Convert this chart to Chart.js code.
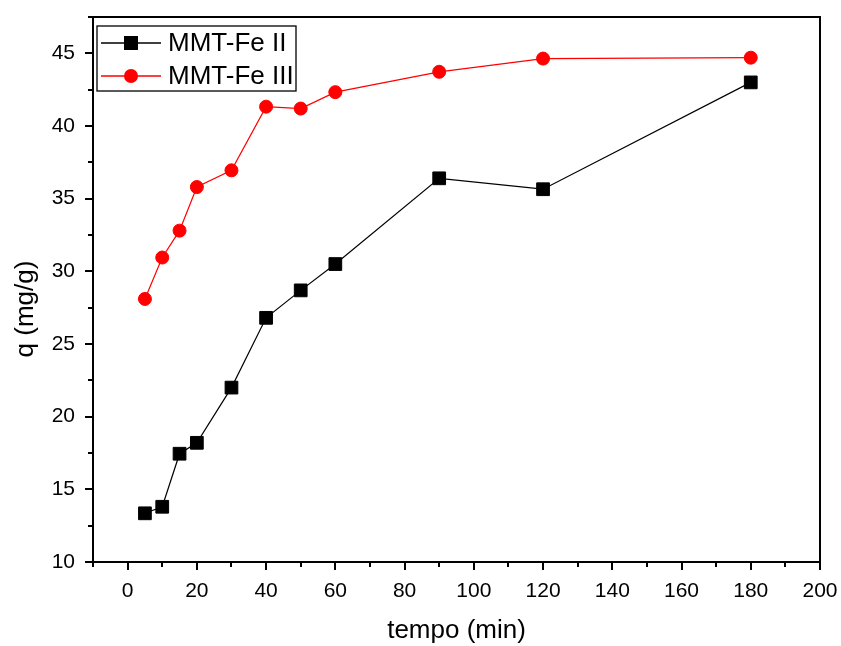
<!DOCTYPE html>
<html>
<head>
<meta charset="utf-8">
<script src="https://cdn.jsdelivr.net/npm/chart.js@4.4.1/dist/chart.umd.min.js"></script>
<style>
  html, body { margin: 0; padding: 0; background: #fff; }
  #wrap { width: 841px; height: 646px; }
</style>
</head>
<body>
<div id="wrap"><canvas id="chartCanvas" width="841" height="646"></canvas></div>
<script>
// --- data ---
const tempo = [5, 10, 15, 20, 30, 40, 50, 60, 90, 120, 180];
const feII  = [13.35, 13.8, 17.45, 18.2, 22.0, 26.8, 28.69, 30.5, 36.4, 35.65, 43.0];
const feIII = [28.1, 30.95, 32.8, 35.8, 36.95, 41.33, 41.2, 42.33, 43.73, 44.64, 44.7];

const xMajor = [0, 20, 40, 60, 80, 100, 120, 140, 160, 180, 200];
const xMinor = [-10, 10, 30, 50, 70, 90, 110, 130, 150, 170, 190];
const yMajor = [10, 15, 20, 25, 30, 35, 40, 45];
const yMinor = [12.5, 17.5, 22.5, 27.5, 32.5, 37.5, 42.5, 47.5];

const FONT = "'Liberation Sans', Arial, sans-serif";

// frame, tick marks, legend and y title drawn on top
const framePlugin = {
    id: 'frame',
    afterDraw(chart) {
        const ctx = chart.ctx, a = chart.chartArea;
        const xs = chart.scales.x, ys = chart.scales.y;
        ctx.save();
        ctx.strokeStyle = '#000'; ctx.lineWidth = 2;
        ctx.strokeRect(a.left, a.top, a.right - a.left, a.bottom - a.top);

        ctx.lineWidth = 2;
        ctx.beginPath();
        xMajor.forEach(v => { const p = Math.round(xs.getPixelForValue(v)); ctx.moveTo(p, a.bottom); ctx.lineTo(p, a.bottom + 8); });
        xMinor.forEach(v => { const p = Math.round(xs.getPixelForValue(v)); ctx.moveTo(p, a.bottom); ctx.lineTo(p, a.bottom + 5); });
        yMajor.forEach(v => { const p = Math.round(ys.getPixelForValue(v)); ctx.moveTo(a.left, p); ctx.lineTo(a.left - 8, p); });
        yMinor.forEach(v => { const p = Math.round(ys.getPixelForValue(v)); ctx.moveTo(a.left, p); ctx.lineTo(a.left - 5, p); });
        ctx.stroke();

        // y title (sits a bit below the centre in the original)
        ctx.fillStyle = '#000';
        ctx.font = '26px ' + FONT;
        ctx.textAlign = 'center'; ctx.textBaseline = 'middle';
        ctx.translate(26, 309); ctx.rotate(-Math.PI / 2);
        ctx.fillText('q (mg/g)', 0, 0);
        ctx.setTransform(1, 0, 0, 1, 0, 0);

        // legend box
        const lx = 97, ly = 26, lw = 199, lh = 65;
        ctx.fillStyle = '#fff'; ctx.fillRect(lx, ly, lw, lh);
        ctx.lineWidth = 1.3; ctx.strokeStyle = '#000';
        ctx.strokeRect(lx, ly, lw, lh);
        const rows = [43, 76];
        chart.data.datasets.forEach((ds, i) => {
            const y = rows[i];
            ctx.strokeStyle = ds.borderColor; ctx.lineWidth = 1.3;
            ctx.beginPath(); ctx.moveTo(101, y); ctx.lineTo(161, y); ctx.stroke();
            ctx.fillStyle = ds.pointBackgroundColor;
            if (ds.pointStyle === 'rect') ctx.fillRect(124, y - 7, 14, 14);
            else { ctx.beginPath(); ctx.arc(131, y, 7, 0, Math.PI * 2); ctx.fill(); }
            ctx.fillStyle = '#000';
            ctx.font = '26px ' + FONT; ctx.textAlign = 'left'; ctx.textBaseline = 'middle';
            ctx.fillText(ds.label, 168, y + 1);
        });
        ctx.restore();
    }
};

const ctx = document.getElementById('chartCanvas').getContext('2d');
new Chart(ctx, {
    type: 'line',
    data: {
        datasets: [
            { label: 'MMT-Fe II', data: tempo.map((t, i) => ({ x: t, y: feII[i] })),
              borderColor: '#000', backgroundColor: '#000', pointBackgroundColor: '#000', pointBorderColor: '#000',
              borderWidth: 1.2, pointStyle: 'rect', pointRadius: 9, pointBorderWidth: 1, tension: 0 },
            { label: 'MMT-Fe III', data: tempo.map((t, i) => ({ x: t, y: feIII[i] })),
              borderColor: '#ff0000', backgroundColor: '#ff0000', pointBackgroundColor: '#ff0000', pointBorderColor: '#ff0000',
              borderWidth: 1.2, pointStyle: 'circle', pointRadius: 6.5, pointBorderWidth: 1, tension: 0 }
        ]
    },
    options: {
        responsive: false, animation: false, maintainAspectRatio: false,
        layout: { padding: { top: 17, right: 21, left: 0, bottom: 0 } },
        plugins: { legend: { display: false }, tooltip: { enabled: false } },
        scales: {
            x: {
                type: 'linear', min: -10, max: 200,
                afterBuildTicks: s => { s.ticks = xMajor.map(v => ({ value: v })); },
                afterFit: s => { s.height = 84; s.paddingLeft = 0; s.paddingRight = 0; },
                grid: { drawOnChartArea: false, tickLength: 8, tickColor: 'rgba(0,0,0,0)' },
                border: { display: false },
                ticks: { color: '#000', font: { family: FONT, size: 21 }, padding: 9, maxRotation: 0, autoSkip: false },
                title: { display: true, text: 'tempo (min)', color: '#000', font: { family: FONT, size: 26 }, padding: { top: 0, bottom: 0 } }
            },
            y: {
                type: 'linear', min: 10, max: 47.5,
                afterBuildTicks: s => { s.ticks = yMajor.map(v => ({ value: v })); },
                afterFit: s => { s.width = 93; s.paddingTop = 0; s.paddingBottom = 0; },
                grid: { drawOnChartArea: false, tickLength: 8, tickColor: 'rgba(0,0,0,0)' },
                border: { display: false },
                ticks: { color: '#000', font: { family: FONT, size: 21 }, padding: 10, autoSkip: false },
                title: { display: false }
            }
        }
    },
    plugins: [framePlugin]
});
</script>
</body>
</html>
